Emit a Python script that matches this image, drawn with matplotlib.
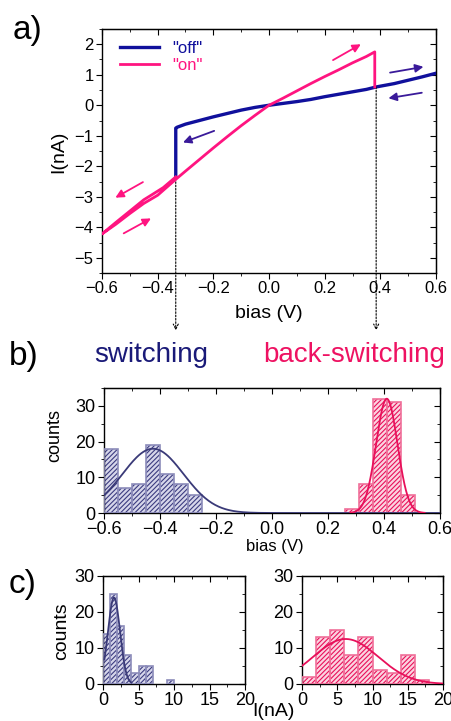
import numpy as np
import matplotlib
matplotlib.use("Agg")
import matplotlib.pyplot as plt
from matplotlib.ticker import MultipleLocator, NullFormatter

plt.rcParams['font.family'] = ['Liberation Sans', 'DejaVu Sans']
plt.rcParams['hatch.linewidth'] = 0.8

# ---- data ----
# a) I-V sweeps
off_v = [0.6, 0.55, 0.5, 0.45, 0.385, 0.35, 0.3, 0.25, 0.2, 0.15, 0.1, 0.05, 0.0,
         -0.05, -0.1, -0.15, -0.2, -0.25, -0.3, -0.33, -0.335, -0.335]
off_i = [1.05, 0.93, 0.82, 0.71, 0.6, 0.52, 0.44, 0.36, 0.28, 0.19, 0.12, 0.06, 0.0,
         -0.07, -0.16, -0.27, -0.38, -0.5, -0.62, -0.72, -0.75, -2.35]
on_v = [-0.335, -0.38, -0.42, -0.45, -0.5, -0.55, -0.6, -0.55, -0.5, -0.45, -0.4,
        -0.335, -0.3, -0.25, -0.2, -0.15, -0.1, -0.05, 0.0, 0.05, 0.1, 0.15,
        0.2, 0.25, 0.3, 0.35, 0.38, 0.38]
on_i = [-2.35, -2.7, -2.93, -3.1, -3.47, -3.84, -4.22, -3.9, -3.55, -3.22, -2.95,
        -2.43, -2.16, -1.78, -1.4, -1.03, -0.67, -0.33, 0.0, 0.23, 0.47, 0.71,
        0.94, 1.16, 1.39, 1.6, 1.75, 0.6]
switch_v = [-0.335, 0.385]
switch_i = [-2.4, 0.6]

# b) switching voltage histograms
sw_edges = [-0.6, -0.55, -0.5, -0.45, -0.4, -0.35, -0.3, -0.25]
sw_counts = [18, 7, 8, 19, 11, 8, 5]
bsw_edges = [0.262, 0.312, 0.362, 0.412, 0.462, 0.512]
bsw_counts = [1, 8, 32, 31, 5]
sw_fit = (18.0, -0.425, 0.109)      # amplitude, centre, sigma
bsw_fit = (32.0, 0.41, 0.038)

# c) current histograms
off_edges = [0, 1, 2, 3, 4, 5, 6, 7, 8, 9, 10]
off_counts = [14, 25, 16, 8, 3, 5, 5, 0, 0, 1]
on_edges = [0, 2, 4, 6, 8, 10, 12, 14, 16, 18]
on_counts = [2, 13, 15, 8, 13, 4, 3, 8, 1]
off_fit = (24.0, 1.55, 0.85)
on_fit = (12.5, 6.2, 4.6)

BLUE = '#10109c'
PINK = '#ff1480'
NAVY_T = '#1a1a78'
PINK_T = '#ee1262'

W, H = 451, 721
fig = plt.figure(figsize=(W / 100, H / 100), dpi=100)


def box(l, t, r, b):
    return [l / W, 1 - b / H, (r - l) / W, (b - t) / H]


def style(ax, xmaj, xmin, ymaj, ymin, size):
    ax.xaxis.set_major_locator(MultipleLocator(xmaj))
    ax.xaxis.set_minor_locator(MultipleLocator(xmin))
    ax.yaxis.set_major_locator(MultipleLocator(ymaj))
    ax.yaxis.set_minor_locator(MultipleLocator(ymin))
    ax.tick_params(which='both', direction='out', labelsize=size, pad=2)
    ax.tick_params(which='major', length=4)
    ax.tick_params(which='minor', length=2.5)
    for s in ax.spines.values():
        s.set_linewidth(1.0)
    # inward ticks on top and right, no labels
    tx = ax.secondary_xaxis('top')
    tx.xaxis.set_major_locator(MultipleLocator(xmaj))
    tx.xaxis.set_minor_locator(MultipleLocator(xmin))
    tx.xaxis.set_major_formatter(NullFormatter())
    tx.tick_params(which='both', direction='in')
    tx.tick_params(which='major', length=4)
    tx.tick_params(which='minor', length=2.5)
    ty = ax.secondary_yaxis('right')
    ty.yaxis.set_major_locator(MultipleLocator(ymaj))
    ty.yaxis.set_minor_locator(MultipleLocator(ymin))
    ty.yaxis.set_major_formatter(NullFormatter())
    ty.tick_params(which='both', direction='in')
    ty.tick_params(which='major', length=4)
    ty.tick_params(which='minor', length=2.5)


def hist(ax, edges, counts, face, hatchc, edgec):
    edges = np.asarray(edges, dtype=float)
    counts = np.asarray(counts)
    lefts = edges[:-1]
    widths = np.diff(edges)
    keep = counts > 0
    ax.bar(lefts[keep], counts[keep], width=widths[keep], align='edge',
           facecolor=face, edgecolor=hatchc, hatch='///////', linewidth=0, zorder=2)
    ax.bar(lefts[keep], counts[keep], width=widths[keep], align='edge',
           facecolor='none', edgecolor=edgec, linewidth=1.2, zorder=3)


def gauss(ax, fit, x0, x1, color):
    a, c, s = fit
    x = np.linspace(x0, x1, 300)
    ax.plot(x, a * np.exp(-(x - c) ** 2 / (2 * s ** 2)), color=color, lw=1.3, zorder=4)


# ---- panel a ----
ax = fig.add_axes(box(102, 29, 436, 273))
ax.plot(off_v, off_i, color=BLUE, lw=2.4, label='"off"', zorder=3)
ax.plot(on_v, on_i, color=PINK, lw=2.0, label='"on"', zorder=4)
ax.set_xlim(-0.6, 0.6)
ax.set_ylim(-5.5, 2.5)
style(ax, 0.2, 0.1, 1, 0.5, 12)
leg = ax.legend(loc='upper left', frameon=False, fontsize=12, handlelength=2.3,
                handletextpad=0.8, labelspacing=0.15, borderaxespad=0.3,
                bbox_to_anchor=(0.02, 1.0))
for t, c in zip(leg.get_texts(), [BLUE, PINK]):
    t.set_color(c)

arrows = [((0.23, 1.48), (0.33, 2.0), PINK),
          ((0.435, 1.07), (0.555, 1.26), '#3a1a9a'),
          ((0.549, 0.41), (0.429, 0.23), '#3a1a9a'),
          ((-0.197, -0.84), (-0.309, -1.22), '#3a1a9a'),
          ((-0.453, -2.52), (-0.552, -3.03), PINK),
          ((-0.522, -4.2), (-0.424, -3.71), PINK)]
for start, end, col in arrows:
    ax.annotate('', xy=end, xytext=start,
                arrowprops=dict(arrowstyle='-|>', color=col, lw=1.3,
                                mutation_scale=12, shrinkA=0, shrinkB=0))

for v, i in zip(switch_v, switch_i):
    ax.annotate('', xy=(v, -0.235), xycoords=ax.get_xaxis_transform(),
                xytext=(v, i), textcoords='data', annotation_clip=False,
                arrowprops=dict(arrowstyle='->', color='black', lw=0.8,
                                linestyle=(0, (1.5, 1.5)), shrinkA=0, shrinkB=0,
                                mutation_scale=9))

# ---- panel b ----
bx = fig.add_axes(box(104, 388, 440, 513))
hist(bx, sw_edges, sw_counts, '#d6d6ea', '#3c3c80', '#8c8cba')
hist(bx, bsw_edges, bsw_counts, '#fbd3e0', '#e8105a', '#f0709a')
gauss(bx, sw_fit, -0.6, 0.6, '#3a3a78')
gauss(bx, bsw_fit, 0.28, 0.545, '#e8105a')
bx.set_xlim(-0.6, 0.6)
bx.set_ylim(0, 35)
style(bx, 0.2, 0.1, 10, 5, 13)

# ---- panel c ----
cx1 = fig.add_axes(box(103, 576, 245, 684))
hist(cx1, off_edges, off_counts, '#d6d6ea', '#3c3c80', '#8c8cba')
gauss(cx1, off_fit, 0.2, 4.0, '#3a3a78')
cx2 = fig.add_axes(box(302, 576, 443, 684))
hist(cx2, on_edges, on_counts, '#fbd3e0', '#e8105a', '#f0709a')
gauss(cx2, on_fit, 0.0, 20.0, '#e8105a')
for c in (cx1, cx2):
    c.set_xlim(0, 20)
    c.set_ylim(0, 30)
    style(c, 5, 2.5, 10, 5, 13)


# ---- labels ----
def ftext(x, y, s, **kw):
    fig.text(x / W, 1 - y / H, s, ha=kw.pop('ha', 'center'), va=kw.pop('va', 'center'), **kw)


ftext(27, 30, 'a)', fontsize=24)
ftext(24, 357, 'b)', fontsize=24)
ftext(23, 584, 'c)', fontsize=24)
ftext(59, 152, 'I(nA)', fontsize=14, rotation=90)
ftext(269, 313, 'bias (V)', fontsize=14)
ftext(94, 355, 'switching', fontsize=20, color=NAVY_T, ha='left')
ftext(445, 355, 'back-switching', fontsize=20, color=PINK_T, ha='right')
ftext(55, 436, 'counts', fontsize=13, rotation=90)
ftext(275, 547, 'bias (V)', fontsize=12)
ftext(62, 631, 'counts', fontsize=14, rotation=90)
ftext(273, 712, 'I(nA)', fontsize=14)

fig.savefig('out.png', dpi=100)
